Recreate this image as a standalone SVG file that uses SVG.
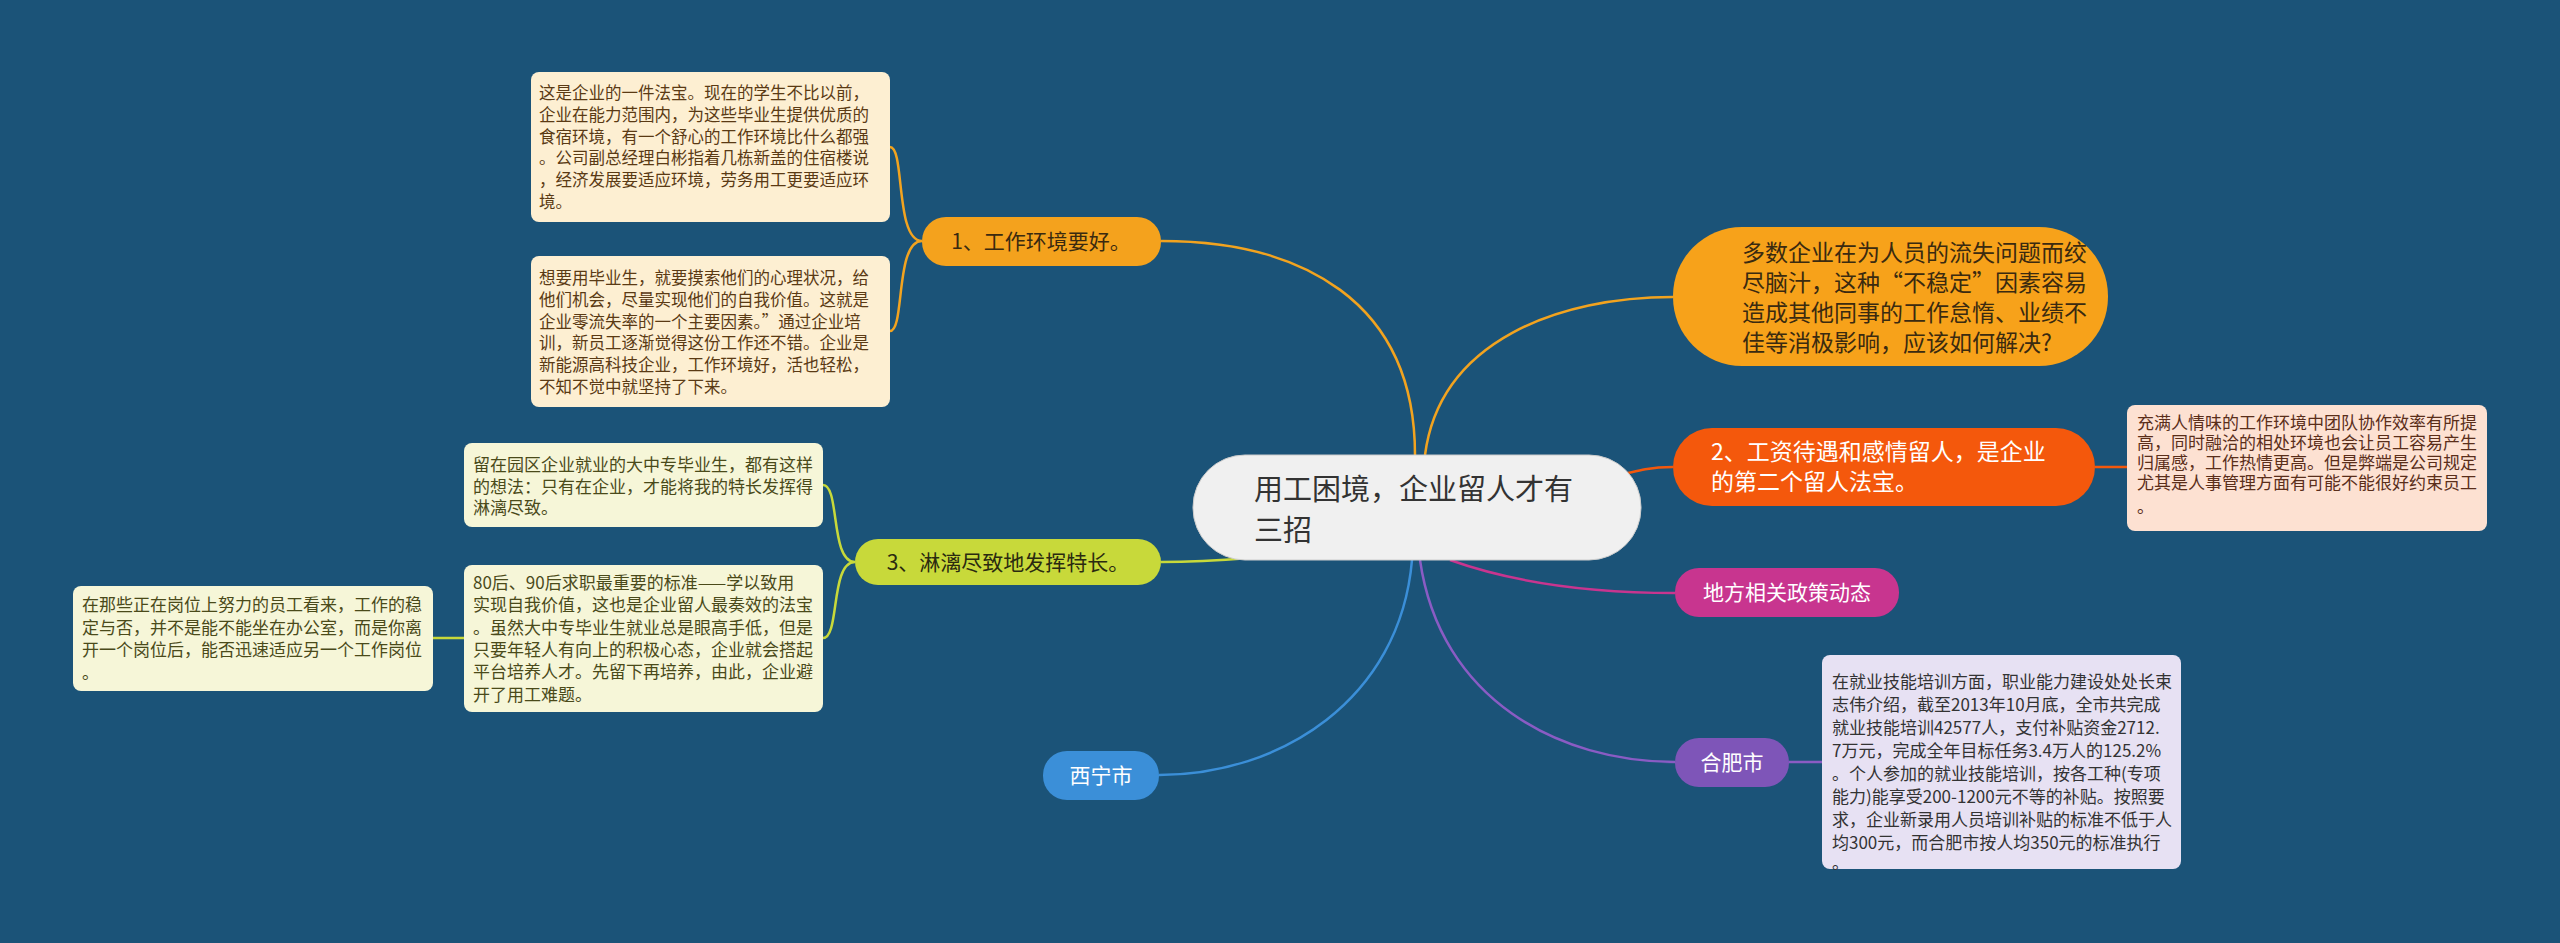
<svg xmlns="http://www.w3.org/2000/svg" width="2560" height="943" viewBox="0 0 2560 943">
<style>
text{font-family:"Noto Sans CJK SC","Noto Sans",sans-serif}
.c{fill:none;stroke-width:2.5}
.lf{font-size:16.5px}
.l2{font-size:17px}
.b{font-size:23px}
</style>
<rect width="2560" height="943" fill="#1b5378"/>
<g id="connectors">
<path class="c" stroke="#f2a31f" d="M1415,455 C1415,300 1300,241 1161,241"/>
<path class="c" stroke="#f2a31f" d="M1425,455 C1440,340 1560,297 1673,297"/>
<path class="c" stroke="#f4580c" d="M1600,480 C1640,470 1650,467 1673,467"/>
<path class="c" stroke="#c8358f" d="M1450,560 C1520,585 1600,593 1675,593"/>
<path class="c" stroke="#8a5cc4" d="M1420,560 C1440,700 1560,762 1675,762"/>
<path class="c" stroke="#3b8fd8" d="M1412,560 C1400,700 1280,775 1159,775"/>
<path class="c" stroke="#c8d93a" d="M1250,558 C1200,562 1180,562 1161,562"/>
<path class="c" stroke="#f2a31f" d="M922,241 C895,241 905,147 890,147 M922,241 C895,241 905,331 890,331"/>
<path class="c" stroke="#c8d93a" d="M855,562 C830,562 840,485 823,485 M855,562 C830,562 840,638 823,638"/>
<path class="c" stroke="#c8d93a" d="M464,638 L433,638"/>
<path class="c" stroke="#f4580c" d="M2095,467 L2127,467"/>
<path class="c" stroke="#8a5cc4" d="M1789,762 L1822,762"/>
</g>
<g id="center">
<rect x="1193" y="455" width="448" height="105" rx="52" fill="#f0f0f0" stroke="#ccc"/>
<text font-size="29" fill="#333"><tspan x="1254" y="500">用工困境，企业留人才有</tspan><tspan x="1254" y="541">三招</tspan></text>
</g>
<g id="q">
<rect x="1673" y="227" width="435" height="139" rx="69" fill="#f7a21a"/>
<text class="b" fill="#3a2a10"><tspan x="1742" y="261">多数企业在为人员的流失问题而绞</tspan><tspan x="1742" y="291">尽脑汁，这种“不稳定”因素容易</tspan><tspan x="1742" y="321">造成其他同事的工作怠惰、业绩不</tspan><tspan x="1742" y="351">佳等消极影响，应该如何解决?</tspan></text>
</g>
<g id="n2">
<rect x="1673" y="428" width="422" height="78" rx="39" fill="#f4580c"/>
<text class="b" fill="#fff"><tspan x="1711" y="460">2、工资待遇和感情留人，是企业</tspan><tspan x="1711" y="490">的第二个留人法宝。</tspan></text>
</g>
<g id="n2leaf">
<rect x="2127" y="405" width="360" height="126" rx="8" fill="#fde1d2"/>
<text class="l2" fill="#5a2e1a"><tspan x="2137" y="429">充满人情味的工作环境中团队协作效率有所提</tspan><tspan x="2137" y="449">高，同时融洽的相处环境也会让员工容易产生</tspan><tspan x="2137" y="469">归属感，工作热情更高。但是弊端是公司规定</tspan><tspan x="2137" y="489">尤其是人事管理方面有可能不能很好约束员工</tspan><tspan x="2137" y="513">。</tspan></text>
</g>
<g id="policy">
<rect x="1675" y="568" width="224" height="49" rx="24" fill="#c8358f"/>
<text x="1787" y="600" font-size="21" fill="#fff" text-anchor="middle">地方相关政策动态</text>
</g>
<g id="hefei">
<rect x="1675" y="738" width="114" height="49" rx="24" fill="#7e55b8"/>
<text x="1732" y="770" font-size="21" fill="#fff" text-anchor="middle">合肥市</text>
</g>
<g id="hefeileaf">
<rect x="1822" y="655" width="359" height="214" rx="8" fill="#e7e1f3"/>
<text class="l2" fill="#333"><tspan x="1832" y="688">在就业技能培训方面，职业能力建设处处长束</tspan><tspan x="1832" y="711">志伟介绍，截至2013年10月底，全市共完成</tspan><tspan x="1832" y="734">就业技能培训42577人，支付补贴资金2712.</tspan><tspan x="1832" y="757">7万元，完成全年目标任务3.4万人的125.2%</tspan><tspan x="1832" y="780">。个人参加的就业技能培训，按各工种(专项</tspan><tspan x="1832" y="803">能力)能享受200-1200元不等的补贴。按照要</tspan><tspan x="1832" y="826">求，企业新录用人员培训补贴的标准不低于人</tspan><tspan x="1832" y="849">均300元，而合肥市按人均350元的标准执行</tspan><tspan x="1832" y="869">。</tspan></text>
</g>
<g id="xining">
<rect x="1043" y="751" width="116" height="49" rx="24" fill="#3b8fd8"/>
<text x="1101" y="783" font-size="21" fill="#fff" text-anchor="middle">西宁市</text>
</g>
<g id="n1">
<rect x="922" y="217" width="239" height="49" rx="24" fill="#f4a21d"/>
<text x="1041" y="249" font-size="21" fill="#3a2a10" text-anchor="middle">1、工作环境要好。</text>
</g>
<g id="n1leafA">
<rect x="531" y="72" width="359" height="150" rx="8" fill="#fdefd2"/>
<text class="lf" fill="#5a3a14"><tspan x="539" y="99">这是企业的一件法宝。现在的学生不比以前，</tspan><tspan x="539" y="121">企业在能力范围内，为这些毕业生提供优质的</tspan><tspan x="539" y="143">食宿环境，有一个舒心的工作环境比什么都强</tspan><tspan x="539" y="164">。公司副总经理白彬指着几栋新盖的住宿楼说</tspan><tspan x="539" y="186">，经济发展要适应环境，劳务用工更要适应环</tspan><tspan x="539" y="208">境。</tspan></text>
</g>
<g id="n1leafB">
<rect x="531" y="256" width="359" height="151" rx="8" fill="#fdefd2"/>
<text class="lf" fill="#5a3a14"><tspan x="539" y="284">想要用毕业生，就要摸索他们的心理状况，给</tspan><tspan x="539" y="306">他们机会，尽量实现他们的自我价值。这就是</tspan><tspan x="539" y="328">企业零流失率的一个主要因素。”通过企业培</tspan><tspan x="539" y="349">训，新员工逐渐觉得这份工作还不错。企业是</tspan><tspan x="539" y="371">新能源高科技企业，工作环境好，活也轻松，</tspan><tspan x="539" y="393">不知不觉中就坚持了下来。</tspan></text>
</g>
<g id="n3">
<rect x="855" y="539" width="306" height="46" rx="23" fill="#c8d93a"/>
<text x="1008" y="570" font-size="21" fill="#2a2a10" text-anchor="middle">3、淋漓尽致地发挥特长。</text>
</g>
<g id="n3leafA">
<rect x="464" y="443" width="359" height="84" rx="8" fill="#f6f6d8"/>
<text class="l2" fill="#4a4a1a"><tspan x="473" y="471">留在园区企业就业的大中专毕业生，都有这样</tspan><tspan x="473" y="493">的想法：只有在企业，才能将我的特长发挥得</tspan><tspan x="473" y="514">淋漓尽致。</tspan></text>
</g>
<g id="n3leafB">
<rect x="464" y="565" width="359" height="147" rx="8" fill="#f6f6d8"/>
<text class="l2" fill="#4a4a1a"><tspan x="473" y="589">80后、90后求职最重要的标准——学以致用</tspan><tspan x="473" y="611">实现自我价值，这也是企业留人最奏效的法宝</tspan><tspan x="473" y="634">。虽然大中专毕业生就业总是眼高手低，但是</tspan><tspan x="473" y="656">只要年轻人有向上的积极心态，企业就会搭起</tspan><tspan x="473" y="678">平台培养人才。先留下再培养，由此，企业避</tspan><tspan x="473" y="701">开了用工难题。</tspan></text>
</g>
<g id="n3leafC">
<rect x="73" y="586" width="360" height="105" rx="8" fill="#f6f6d8"/>
<text class="l2" fill="#4a4a1a"><tspan x="82" y="611">在那些正在岗位上努力的员工看来，工作的稳</tspan><tspan x="82" y="634">定与否，并不是能不能坐在办公室，而是你离</tspan><tspan x="82" y="656">开一个岗位后，能否迅速适应另一个工作岗位</tspan><tspan x="82" y="679">。</tspan></text>
</g>
</svg>
